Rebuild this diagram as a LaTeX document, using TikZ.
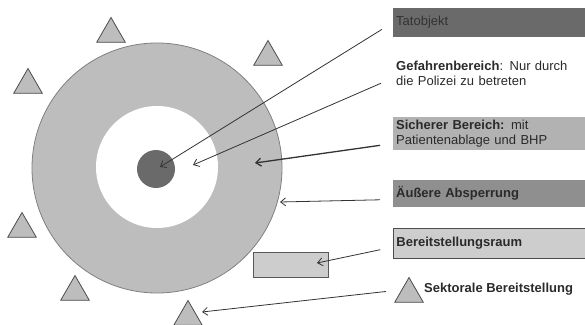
\documentclass[tikz,border=0pt]{standalone}
\usepackage{fontspec}
\setmainfont{Liberation Sans}
\usepackage{xcolor}
\usetikzlibrary{positioning, shapes.geometric, arrows.meta}

\definecolor{ringgray}{HTML}{BDBDBD}
\definecolor{coregray}{HTML}{6A6A6A}
\definecolor{safegray}{HTML}{B2B2B2}
\definecolor{cordongray}{HTML}{8F8F8F}
\definecolor{stagegray}{HTML}{CDCDCD}
\definecolor{inkgray}{HTML}{2A2A2A}

\begin{document}
\begin{tikzpicture}[
    x=1pt, y=-1pt,
    font=\fontsize{13}{15}\selectfont,
    zone/.style={circle, inner sep=0pt},
    sector/.style={regular polygon, regular polygon sides=3, minimum size=33pt, inner sep=0pt,
                   draw=black!70, fill=ringgray, line width=0.8pt},
    legendbox/.style={anchor=west, minimum width=192pt, text width=186pt, inner xsep=3pt,
                      align=left, text=inkgray},
    callout/.style={-{Straight Barb[length=5pt, width=8pt]}, line width=0.8pt, black!80,
                    shorten <=13pt},
  ]
  \useasboundingbox (0,0) rectangle (585,324);

  % ---------------- Zones ----------------
  \node[zone, minimum size=250pt, fill=ringgray, draw=black!50, line width=0.8pt] (outer) at (157,168) {};
  \node[zone, minimum size=122pt, fill=white] (inner) at (157,167) {};
  \node[zone, minimum size=38pt, fill=coregray] (core) at (156,169) {};

  % ---------------- Staging ----------------
  \node[draw=black!65, fill=stagegray, line width=0.8pt, minimum width=75pt, minimum height=25pt]
       (raum) at (290.5,264.5) {};
  \foreach \n/\p in {s1/{(111,34)}, s2/{(268,57)}, s3/{(28,85)}, s4/{(22,229)},
                     s5/{(75,292)}, s6/{(188,317)}}
    \node[sector] (\n) at \p {};

  % ---------------- Legend ----------------
  \node[legendbox, fill=coregray, minimum height=29pt, text=black!80] (tatobj) at (393,22.5) {Tatobjekt};
  \node[legendbox, minimum height=34pt] (gefahr) at (393,73)
       {\textbf{Gefahrenbereich}: Nur durch\\die Polizei zu betreten};
  \node[legendbox, fill=safegray, minimum height=33pt] (sicher) at (393,133.5)
       {\textbf{Sicherer Bereich:} mit\\Patientenablage und BHP};
  \node[legendbox, fill=cordongray, minimum height=27pt] (absperr) at (393,193.5)
       {\textbf{Äußere Absperrung}};
  \node[legendbox, fill=stagegray, draw=black!70, line width=0.8pt, minimum width=190pt,
        minimum height=30pt] (bereit) at (393,243) {\textbf{Bereitstellungsraum}};
  \node[sector] (sleg) at (409,294) {};
  \node[anchor=west, inner sep=0pt, text=inkgray] (sektor) at (424,289) {\textbf{Sektorale Bereitstellung}};

  % ---------------- Targets ----------------
  \coordinate (ptat)    at (160,167);
  \coordinate (pgef)    at (193,165);
  \coordinate (psich)   at (255,163);
  \coordinate (pabs)    at (280,202);
  \coordinate (pbereit) at (317,263);
  \coordinate (psektor) at (202,312);

  % ---------------- Callouts ----------------
  \draw[callout] (tatobj.west) -- (ptat);
  \draw[callout] ([yshift=-5pt]gefahr.west) -- (pgef);
  \draw[callout, line width=1.3pt] ([yshift=-10pt]sicher.west) -- (psich);
  \draw[callout] ([yshift=-6pt]absperr.west) -- (pabs);
  \draw[callout] ([yshift=-4pt]bereit.west) -- (pbereit);
  \draw[callout] ([yshift=4pt]sleg.west) -- (psektor);
\end{tikzpicture}
\end{document}
